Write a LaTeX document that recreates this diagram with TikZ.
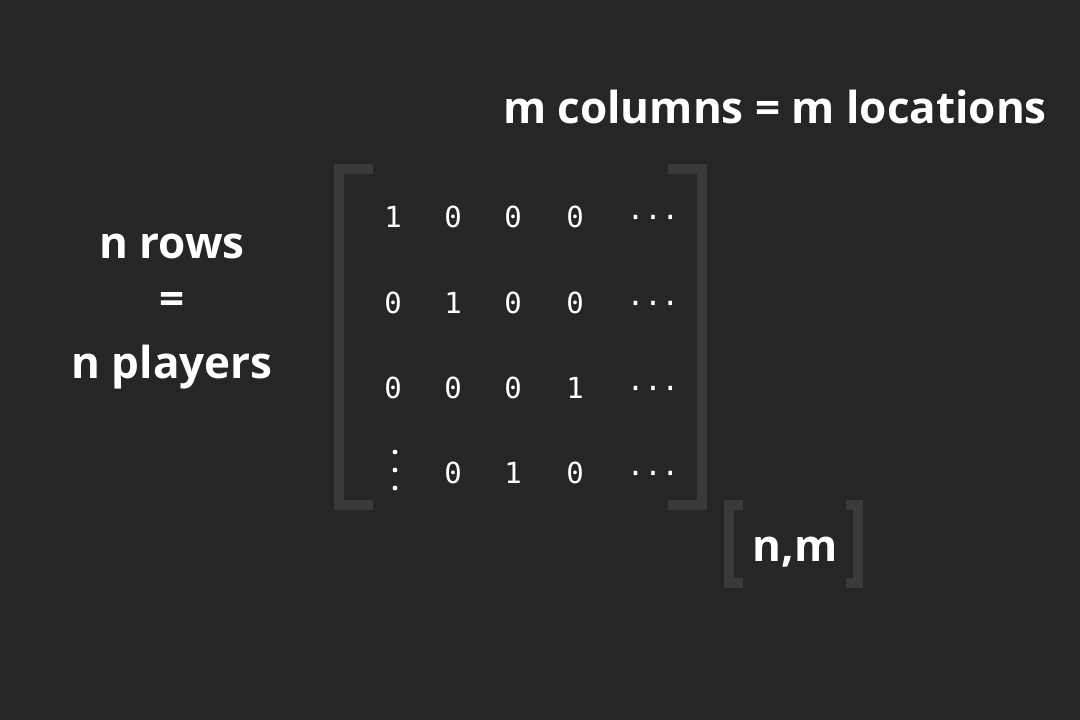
\documentclass[tikz,border=0pt]{standalone}
\usepackage{fontspec}
\setmainfont{Open Sans}
\newfontfamily\matfont{DejaVu Sans Mono}
\usetikzlibrary{positioning}
\definecolor{slateBg}{HTML}{262626}
\definecolor{slateBracket}{HTML}{3A3A3A}
\definecolor{slateInk}{HTML}{FFFFFF}

\begin{document}
\begin{tikzpicture}[x=1pt,y=-1pt,line join=miter]
\path[fill=slateBg] (0,0) rectangle (1080,720);
\tikzset{label/.style={text=slateInk,font=\fontsize{44}{52}\selectfont\bfseries,inner sep=0pt},
  entry/.style={text=slateInk,font=\matfont\fontsize{29}{18}\selectfont,inner sep=0pt,anchor=base},
  bracket/.style={draw=slateBracket,line width=10pt}}
% headings
\node[label,anchor=base] (cols) at (775,123) {m columns = m locations};
\node[label,anchor=base] (rows) at (172,258) {n rows};
\node[label] (eq) at (172,303) {=};
\node[label,anchor=base] (players) at (172,378) {n players};
% matrix brackets
\draw[bracket] (373,169) -- (339,169) -- (339,505) -- (373,505);
\draw[bracket] (668,169) -- (702,169) -- (702,505) -- (668,505);
% matrix entries
\foreach \r/\y/\a/\b/\c/\d in {1/227/1/0/0/0,2/313/0/1/0/0,3/398/0/0/0/1,4/483/{}/0/1/0}{
  \node[entry] (m-\r-1) at (393,\y) {\a};
  \node[entry] (m-\r-2) at (453,\y) {\b};
  \node[entry] (m-\r-3) at (513,\y) {\c};
  \node[entry] (m-\r-4) at (575,\y) {\d};
  \node[entry] (m-\r-5) at (653,\y) {···};
}
% vertical dots
\foreach \y in {452,470,488}
  \fill[slateInk] (395,\y) circle (2.4pt);
% shape label
\draw[bracket] (743,505) -- (729,505) -- (729,583) -- (743,583);
\draw[bracket] (846,505) -- (858,505) -- (858,583) -- (846,583);
\node[label,anchor=base] (shape) at (795,561) {n,m};
\end{tikzpicture}
\end{document}
